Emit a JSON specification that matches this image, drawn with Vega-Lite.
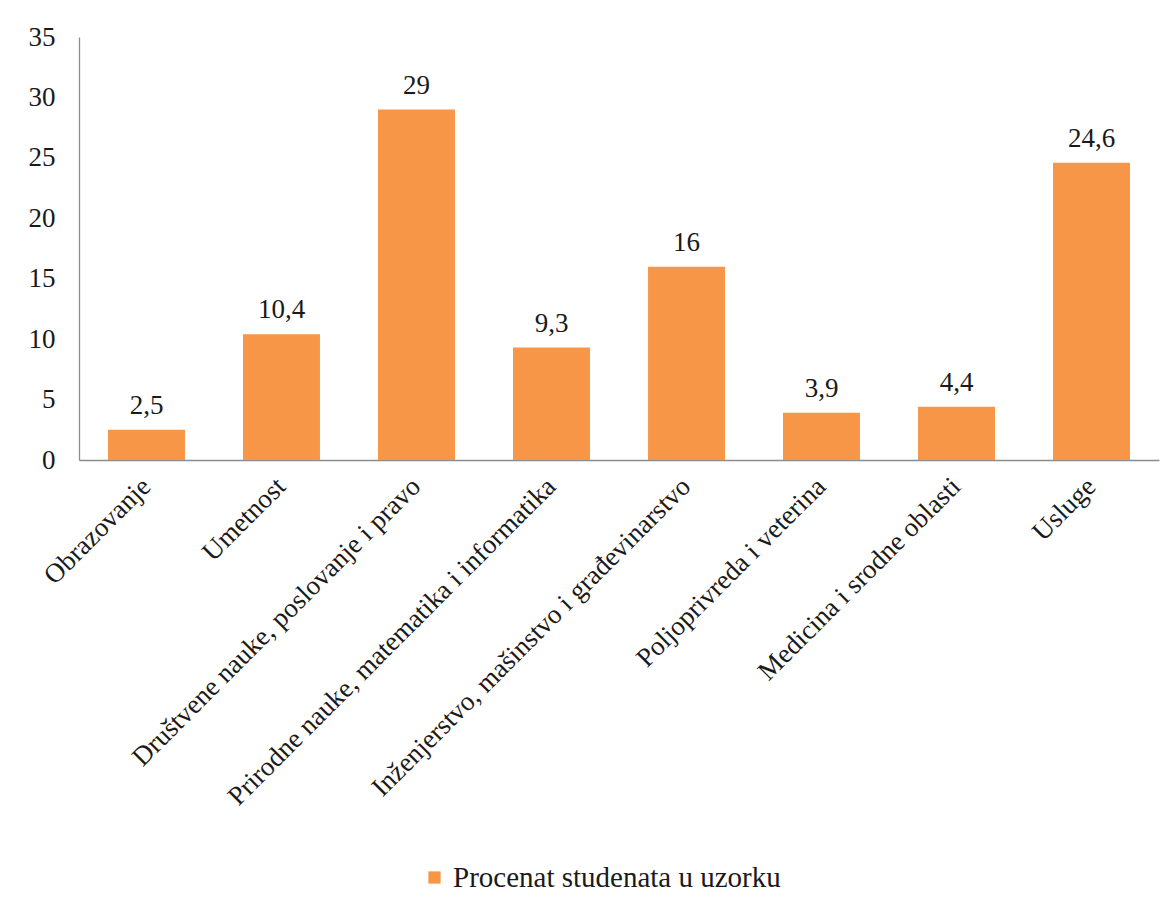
{
  "$schema": "https://vega.github.io/schema/vega-lite/v6.json",
  "width": 1080,
  "height": 423,
  "autosize": {"type": "none"},
  "padding": {"left": 79, "top": 37, "right": 16, "bottom": 450},
  "background": "white",
  "config": {
    "font": "Liberation Serif",
    "view": {"stroke": null},
    "locale": {"number": {"decimal": ",", "thousands": ".", "grouping": [3], "currency": ["", ""]}}
  },
  "data": {
    "values": [
      {"oblast": "Obrazovanje", "procenat": 2.5},
      {"oblast": "Umetnost", "procenat": 10.4},
      {"oblast": "Društvene nauke, poslovanje i pravo", "procenat": 29},
      {"oblast": "Prirodne nauke, matematika i informatika", "procenat": 9.3},
      {"oblast": "Inženjerstvo, mašinstvo i građevinarstvo", "procenat": 16},
      {"oblast": "Poljoprivreda i veterina", "procenat": 3.9},
      {"oblast": "Medicina i srodne oblasti", "procenat": 4.4},
      {"oblast": "Usluge", "procenat": 24.6}
    ]
  },
  "encoding": {
    "x": {
      "field": "oblast",
      "type": "nominal",
      "sort": null,
      "scale": {"paddingInner": 0.43, "paddingOuter": 0.215},
      "axis": {
        "title": null,
        "labelAngle": -45,
        "labelAlign": "right",
        "labelBaseline": "middle",
        "labelFontSize": 27,
        "labelColor": "#1a1a1a",
        "labelPadding": 22,
        "labelLimit": 700,
        "ticks": false,
        "domainColor": "#8c8c8c",
        "domainWidth": 1.3
      }
    },
    "y": {
      "field": "procenat",
      "type": "quantitative",
      "scale": {"domain": [0, 35], "nice": false},
      "axis": {
        "title": null,
        "values": [0, 5, 10, 15, 20, 25, 30, 35],
        "grid": false,
        "ticks": false,
        "labelFontSize": 27,
        "labelColor": "#1a1a1a",
        "labelPadding": 24,
        "domainColor": "#8c8c8c",
        "domainWidth": 1.3
      }
    }
  },
  "layer": [
    {
      "mark": {"type": "bar", "color": "#F79646"},
      "encoding": {
        "color": {
          "datum": "Procenat studenata u uzorku",
          "type": "nominal",
          "scale": {"range": ["#F79646"]},
          "legend": {
            "title": null,
            "orient": "none",
            "legendX": 341,
            "legendY": 826,
            "symbolType": "square",
            "symbolSize": 150,
            "symbolStrokeWidth": 0,
            "labelFontSize": 29,
            "labelColor": "#1a1a1a",
            "labelOffset": 4,
            "labelLimit": 600
          }
        }
      }
    },
    {
      "mark": {"type": "text", "baseline": "middle", "dy": -24, "fontSize": 27, "color": "#1a1a1a"},
      "encoding": {
        "text": {"field": "procenat", "type": "quantitative", "format": ""}
      }
    }
  ]
}
